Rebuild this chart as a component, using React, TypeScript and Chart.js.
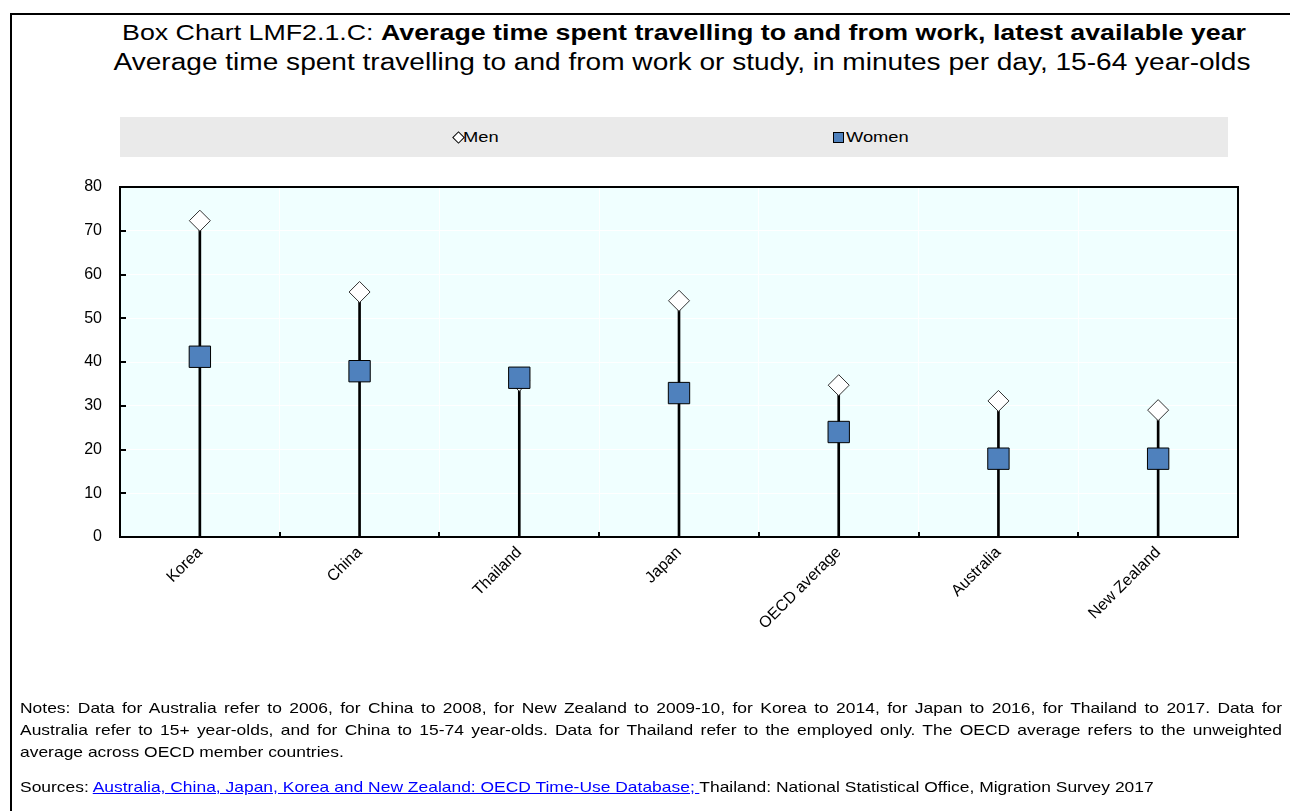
import React, { useEffect, useRef } from "react";
import { Chart, registerables } from "chart.js";

Chart.register(...registerables);

const categories: string[] = ["Korea", "China", "Thailand", "Japan", "OECD average", "Australia", "New Zealand"];
const menValues: number[] = [72.3, 56.0, 35.7, 54.0, 34.7, 31.1, 29.0];
const womenValues: number[] = [41.2, 37.9, 36.4, 32.9, 24.0, 17.9, 17.9];
const yTicks: number[] = [0, 10, 20, 30, 40, 50, 60, 70, 80];

const noteLines: string[] = [
  "Notes: Data for Australia refer to 2006, for China to 2008, for New Zealand to 2009-10, for Korea to 2014, for Japan to 2016, for Thailand to 2017. Data for",
  "Australia refer to 15+ year-olds, and for China to 15-74 year-olds. Data for Thailand refer to the employed only. The OECD average refers to the unweighted",
  "average across OECD member countries.",
];

const FONT = "'Liberation Sans', Arial, sans-serif";
const SX = 1.22;

const plotDecor = {
  id: "plotDecor",
  beforeDraw(chart: any) {
    const { ctx, chartArea } = chart;
    ctx.save();
    ctx.fillStyle = "#F0FFFF";
    ctx.fillRect(chartArea.left, chartArea.top, chartArea.right - chartArea.left, chartArea.bottom - chartArea.top);
    ctx.restore();
  },
  afterDraw(chart: any) {
    const { ctx, chartArea, scales } = chart;
    ctx.save();
    ctx.strokeStyle = "#000";
    ctx.lineWidth = 2;
    yTicks.forEach((v) => {
      const y = Math.round(scales.y.getPixelForValue(v));
      ctx.beginPath();
      ctx.moveTo(chartArea.left, y);
      ctx.lineTo(chartArea.left + 6, y);
      ctx.stroke();
    });
    for (let i = 0; i < categories.length - 1; i++) {
      const x = Math.round((scales.x.getPixelForValue(i) + scales.x.getPixelForValue(i + 1)) / 2);
      ctx.beginPath();
      ctx.moveTo(x, chartArea.bottom);
      ctx.lineTo(x, chartArea.bottom - 5);
      ctx.stroke();
    }
    ctx.strokeRect(chartArea.left, chartArea.top, chartArea.right - chartArea.left, chartArea.bottom - chartArea.top);
    ctx.restore();
  },
};

export default function App() {
  const ref = useRef<HTMLCanvasElement | null>(null);

  useEffect(() => {
    if (!ref.current) return;
    const stems = categories.map((_, i) => [0, Math.max(menValues[i] ?? 0, womenValues[i] ?? 0)]);
    const chart = new Chart(ref.current, {
      type: "bar",
      data: {
        labels: categories,
        datasets: [
          {
            type: "bar",
            label: "stem",
            data: stems as any,
            backgroundColor: "#000",
            barThickness: 2,
            order: 3,
            grouped: false,
          } as any,
          {
            type: "line",
            label: "Men",
            data: menValues,
            showLine: false,
            pointStyle: "rectRot",
            pointRadius: 10.5,
            pointBackgroundColor: "#FFFFFF",
            pointBorderColor: "#333333",
            pointBorderWidth: 1,
            order: 2,
          } as any,
          {
            type: "line",
            label: "Women",
            data: womenValues,
            showLine: false,
            pointStyle: "rect",
            pointRadius: 15.1,
            pointBackgroundColor: "#4F81BD",
            pointBorderColor: "#000000",
            pointBorderWidth: 1,
            order: 1,
          } as any,
        ],
      },
      options: {
        responsive: false,
        animation: false,
        layout: { padding: { left: 20, top: 187, right: 52, bottom: 0 } },
        plugins: {
          legend: { display: false },
          tooltip: { enabled: false },
          title: { display: false },
        },
        scales: {
          x: {
            offset: true,
            grid: { color: "#FFFFFF", lineWidth: 1, drawTicks: false, offset: true },
            border: { display: false },
            ticks: {
              color: "#000",
              font: { family: FONT, size: 16 },
              maxRotation: 45,
              minRotation: 45,
              padding: 6,
              autoSkip: false,
            },
            afterFit: (s: any) => {
              s.height = 811 - 537;
            },
          },
          y: {
            min: 0,
            max: 80,
            grid: { color: "#FFFFFF", lineWidth: 1, drawTicks: false },
            border: { display: false },
            ticks: {
              stepSize: 10,
              color: "#000",
              font: { family: FONT, size: 16 },
              padding: 18,
            },
            afterFit: (s: any) => {
              s.width = 100;
            },
          },
        },
      },
      plugins: [plotDecor],
    });
    return () => chart.destroy();
  }, []);

  const centered = (cx: number, top: number, size: number, sx: number): React.CSSProperties => ({
    position: "absolute",
    left: cx,
    top,
    fontSize: size,
    lineHeight: "28px",
    whiteSpace: "nowrap",
    transform: `translateX(-50%) scaleX(${sx})`,
  });

  return (
    <div style={{ position: "absolute", left: 0, top: 0, width: 1290, height: 811, overflow: "hidden", background: "#fff", fontFamily: FONT, color: "#000" }}>
      <div style={{ position: "absolute", left: 10, top: 13, width: 1400, height: 900, borderLeft: "2px solid #000", borderTop: "2px solid #000" }} />
      <div style={centered(683.5, 19, 22, 1.217)}>
        Box Chart LMF2.1.C: <b>Average time spent travelling to and from work, latest available year</b>
      </div>
      <div style={centered(681.5, 48, 23, 1.22)}>
        Average time spent travelling to and from work or study, in minutes per day, 15-64 year-olds
      </div>
      <div style={{ position: "absolute", left: 120, top: 117, width: 1108, height: 40, background: "#EAEAEA" }} />
      <div style={{ position: "absolute", left: 454, top: 133, width: 7, height: 7, border: "1px solid #000", background: "#fff", transform: "rotate(45deg)" }} />
      <div style={{ position: "absolute", left: 463, top: 127, fontSize: 15, lineHeight: "20px", transformOrigin: "left top", transform: `scaleX(${SX})` }}>Men</div>
      <div style={{ position: "absolute", left: 833, top: 132, width: 9, height: 9, border: "1px solid #000", background: "#4F81BD" }} />
      <div style={{ position: "absolute", left: 846, top: 127, fontSize: 15, lineHeight: "20px", transformOrigin: "left top", transform: `scaleX(${SX})` }}>Women</div>
      <canvas ref={ref} width={1290} height={811} style={{ position: "absolute", left: 0, top: 0, width: 1290, height: 811 }} />
      {noteLines.map((line, i) => (
        <div
          key={i}
          style={{
            position: "absolute",
            left: 20,
            top: 697 + i * 22,
            width: 1262 / SX,
            fontSize: 14.3,
            lineHeight: "22px",
            whiteSpace: "nowrap",
            textAlign: "justify",
            textAlignLast: i < noteLines.length - 1 ? "justify" : "left",
            transformOrigin: "left top",
            transform: `scaleX(${SX})`,
          } as React.CSSProperties}
        >
          {line}
        </div>
      ))}
      <div style={{ position: "absolute", left: 20, top: 776, fontSize: 14.3, lineHeight: "22px", whiteSpace: "nowrap", transformOrigin: "left top", transform: `scaleX(${SX})` }}>
        Sources: <span style={{ color: "#0000FF", textDecoration: "underline" }}>Australia, China, Japan, Korea and New Zealand: OECD Time-Use Database; </span>Thailand: National Statistical Office, Migration Survey 2017
      </div>
    </div>
  );
}
